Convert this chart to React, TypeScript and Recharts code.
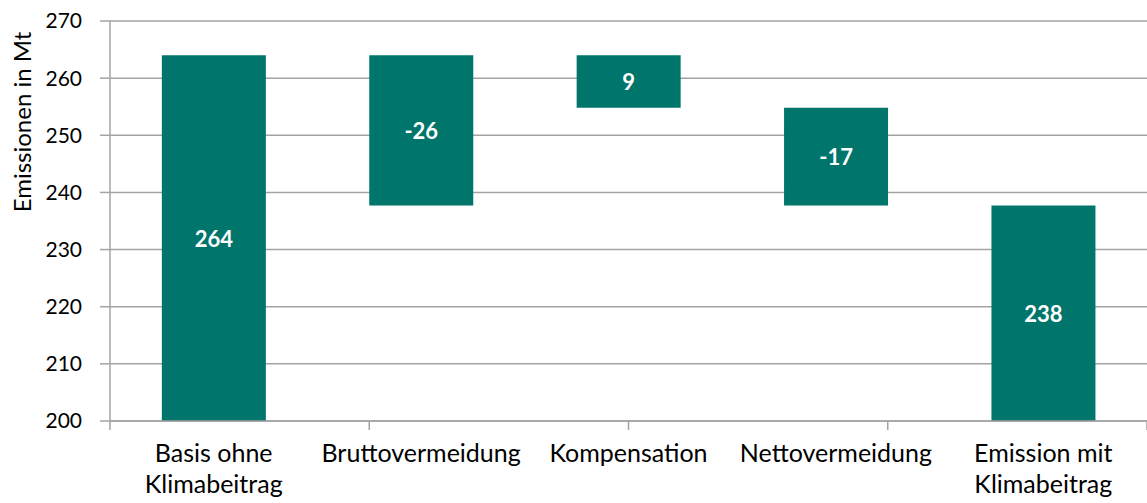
import { BarChart, Bar, XAxis, YAxis, CartesianGrid, LabelList } from "recharts";

const categories = [
  ["Basis ohne", "Klimabeitrag"],
  ["Bruttovermeidung"],
  ["Kompensation"],
  ["Nettovermeidung"],
  ["Emission mit", "Klimabeitrag"],
];
const lows = [200, 237.7, 254.8, 237.7, 200];
const highs = [264, 264, 264, 254.8, 237.7];
const labels = ["264", "-26", "9", "-17", "238"];
const yTicks = [200, 210, 220, 230, 240, 250, 260, 270];
const edgeTicks = [0, 1, 2, 3, 4, 5];

const data = categories.map((c, i) => ({
  name: c.join(" "),
  lines: c,
  range: [lows[i], highs[i]],
  label: labels[i],
}));

const FONT = "Lato, 'Open Sans', sans-serif";
const TEAL = "#00756B";
const GRID = "#A3A3A3";

function CategoryTick(props: any) {
  const { x, y, payload } = props;
  const item = data[payload.index];
  const lines = item ? item.lines : [payload.value];
  return (
    <text x={x} y={y} textAnchor="middle" fill="#000" fontSize={25} fontFamily={FONT}>
      {lines.map((l: string, i: number) => (
        <tspan key={i} x={x} dy={i === 0 ? 40 : 31}>
          {l}
        </tspan>
      ))}
    </text>
  );
}

// small tick mark at each category boundary
function EdgeTick(props: any) {
  const { x, y } = props;
  return <line x1={x} x2={x} y1={y} y2={y + 9} stroke={GRID} strokeWidth={1.5} />;
}

function BarValue(props: any) {
  const { x, y, width, height, index } = props;
  return (
    <text
      x={x + width / 2}
      y={y + height / 2}
      textAnchor="middle"
      dominantBaseline="central"
      fill="#fff"
      fontWeight={700}
      fontSize={22}
      fontFamily={FONT}
    >
      {data[index].label}
    </text>
  );
}

export default function App() {
  return (
    <div style={{ position: "absolute", left: 0, top: 0, background: "#fff" }}>
      <BarChart
        width={1147}
        height={503}
        data={data}
        margin={{ top: 21, right: 0, left: 0, bottom: 0 }}
        barCategoryGap="25%"
      >
        <CartesianGrid xAxisId={1} vertical={false} stroke={GRID} strokeWidth={1.5} />
        <XAxis
          xAxisId={0}
          type="number"
          domain={[0, 5]}
          ticks={edgeTicks}
          interval={0}
          tick={<EdgeTick />}
          tickLine={false}
          tickSize={0}
          tickMargin={0}
          axisLine={{ stroke: GRID, strokeWidth: 1.5 }}
          height={1}
        />
        <XAxis
          xAxisId={1}
          dataKey="name"
          tick={<CategoryTick />}
          tickLine={false}
          axisLine={false}
          interval={0}
          height={81}
          tickMargin={0}
          tickSize={0}
        />
        <YAxis
          domain={[200, 270]}
          ticks={yTicks}
          tickSize={10}
          tickMargin={18}
          width={110}
          tick={{ fill: "#000", fontSize: 21, fontFamily: FONT }}
          tickLine={{ stroke: GRID, strokeWidth: 1.5 }}
          axisLine={{ stroke: GRID, strokeWidth: 1.5 }}
          allowDataOverflow
          label={{
            content: () => (
              <text
                x={0}
                y={0}
                transform="translate(31, 122) rotate(-90)"
                textAnchor="middle"
                fill="#000"
                fontSize={24}
                fontFamily={FONT}
              >
                Emissionen in Mt
              </text>
            ),
          }}
        />
        <Bar xAxisId={1} dataKey="range" fill={TEAL} isAnimationActive={false}>
          <LabelList dataKey="label" content={<BarValue />} />
        </Bar>
      </BarChart>
    </div>
  );
}
